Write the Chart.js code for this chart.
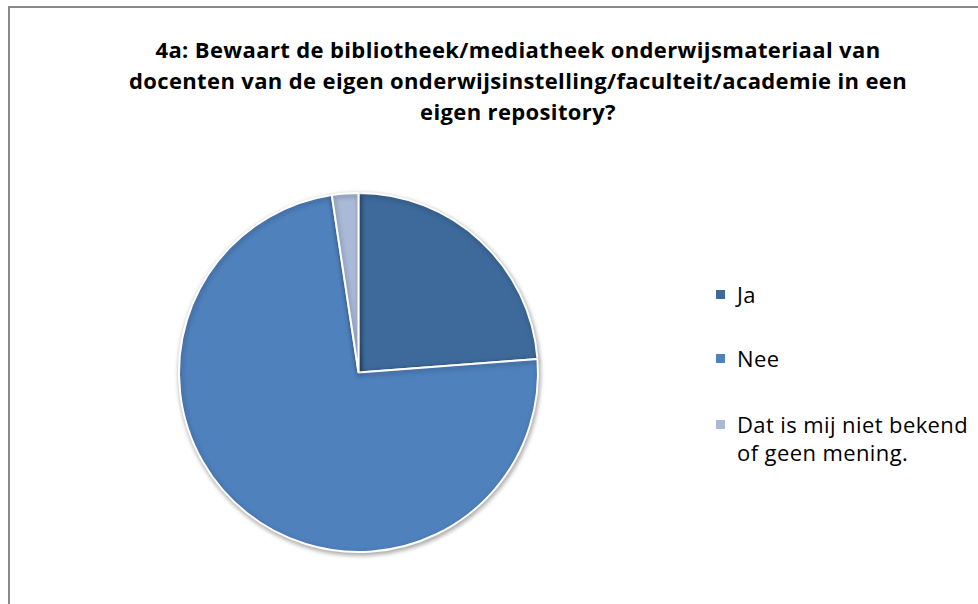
<!DOCTYPE html>
<html>
<head>
<meta charset="utf-8">
<script src="https://cdn.jsdelivr.net/npm/chart.js@4.4.1/dist/chart.umd.min.js"></script>
<style>
    html, body { margin: 0; padding: 0; background: #fff; overflow: hidden; }
    body { width: 978px; height: 604px; position: relative; }
    #frame {
        position: absolute; left: 8px; top: 6px; width: 1030px; height: 640px;
        border: 2px solid #8a8a8a; box-sizing: border-box;
    }
    #title {
        position: absolute; left: 8px; width: 1020px; top: 34px;
        text-align: center; font-family: "Open Sans", sans-serif;
        font-weight: bold; font-size: 22px; letter-spacing: 0.37px; line-height: 31px; color: #000;
    }
    #pieWrap { position: absolute; left: 168px; top: 182px; width: 381px; height: 381px; }
    #legend {
        position: absolute; left: 716px; top: 280px;
        font-family: "Open Sans", sans-serif; font-size: 22px; letter-spacing: 0.4px; line-height: 28px; color: #000;
    }
    .item { position: absolute; left: 0; white-space: nowrap; }
    .box { position: absolute; left: 0; top: 10px; width: 9px; height: 9px; }
    .txt { position: absolute; left: 21px; top: 0; }
</style>
</head>
<body>
<div id="frame"></div>
<div id="title">4a: Bewaart de bibliotheek/mediatheek onderwijsmateriaal van<br>docenten van de eigen onderwijsinstelling/faculteit/academie in een<br>eigen repository?</div>
<div id="pieWrap"><canvas id="pie" width="381" height="381"></canvas></div>
<div id="legend"></div>
<script>
// data
const labels = ['Ja', 'Nee', 'Dat is mij niet bekend of geen mening.'];
const legendLines = [['Ja'], ['Nee'], ['Dat is mij niet bekend', 'of geen mening.']];
const values = [10, 31, 1];
const colors = ['#3d6a9b', '#4f81bd', '#a9b9d7'];

// legend (html)
const legendTops = [0, 64, 130];
const legend = document.getElementById('legend');
legendLines.forEach((lines, i) => {
    const item = document.createElement('div');
    item.className = 'item';
    item.style.top = legendTops[i] + 'px';
    item.innerHTML = '<div class="box" style="background:' + colors[i] + '"></div>' +
        '<div class="txt">' + lines.join('<br>') + '</div>';
    legend.appendChild(item);
});

// schaduw onder de taart
const shadowPlugin = {
    id: 'pieShadow',
    beforeDatasetsDraw(chart) {
        const ctx = chart.ctx;
        ctx.save();
        ctx.shadowColor = 'rgba(0,0,0,0.35)';
        ctx.shadowBlur = 5;
        ctx.shadowOffsetX = 1;
        ctx.shadowOffsetY = 2;
    },
    afterDatasetsDraw(chart) {
        chart.ctx.restore();
    }
};

new Chart(document.getElementById('pie'), {
    type: 'pie',
    data: {
        labels: labels,
        datasets: [{
            data: values,
            backgroundColor: colors,
            borderColor: '#ffffff',
            borderWidth: 2
        }]
    },
    options: {
        responsive: false,
        animation: false,
        layout: { padding: 10 },
        plugins: {
            legend: { display: false },
            title: { display: false },
            tooltip: { enabled: false }
        }
    },
    plugins: [shadowPlugin]
});
</script>
</body>
</html>
